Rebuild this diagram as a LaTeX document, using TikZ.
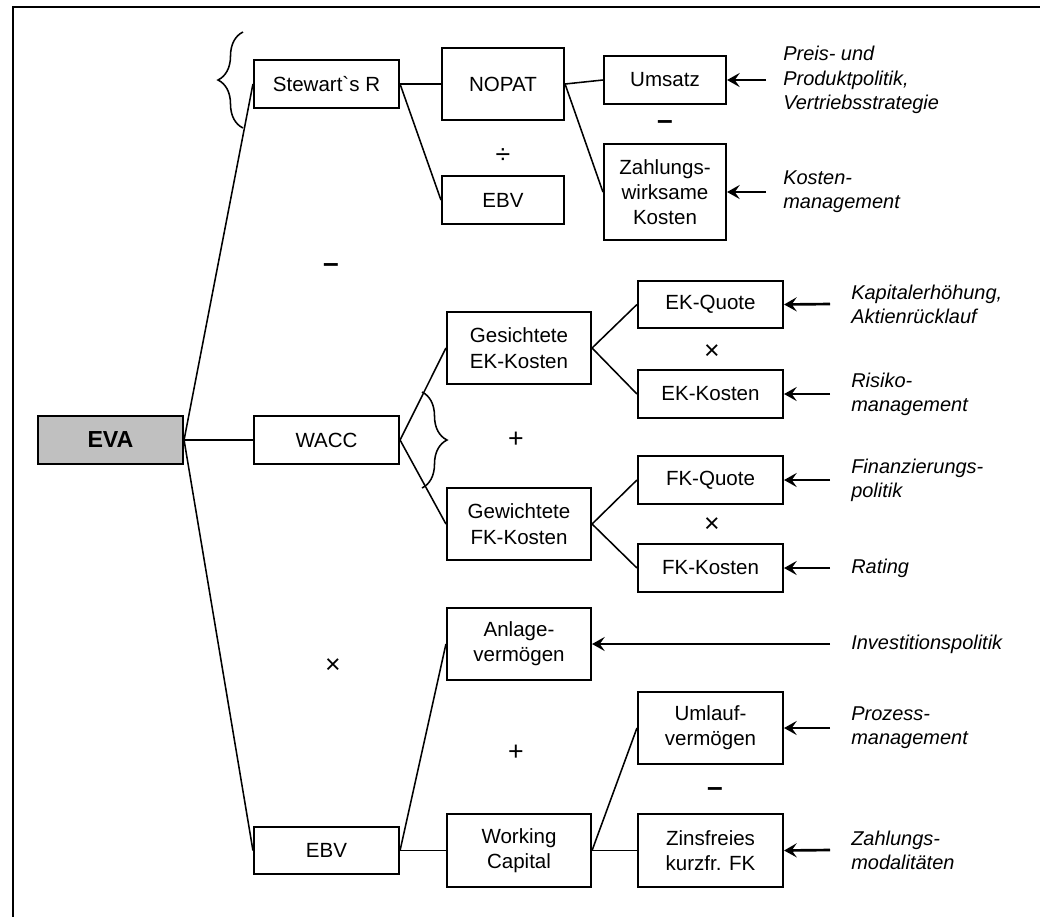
\documentclass[tikz,border=0pt]{standalone}
\usepackage{fontspec}
\setmainfont{Liberation Sans}[Ligatures=TeXOff]
\usetikzlibrary{arrows.meta,decorations.pathreplacing}
\definecolor{evagray}{RGB}{192,192,192}
\begin{document}
\begin{tikzpicture}[x=0.025cm,y=-0.025cm,
  font=\fontsize{14.6}{18}\selectfont,
  box/.style 2 args={draw,line width=1.5pt,align=center,inner sep=0pt,
    minimum width=#1*0.025cm,minimum height=#2*0.025cm},
  conn/.style={line width=1.1pt},
  arr/.style={line width=1.9pt,-{Stealth[length=9pt,width=10pt,inset=3.5pt]}},
  lab/.style={anchor=west,align=left,inner sep=0pt,font=\fontsize{14.2}{17.2}\selectfont\itshape},
  op/.style={inner sep=0pt,font=\fontsize{19}{20}\selectfont},
  minus/.style={inner sep=0pt,font=\fontsize{20}{20}\selectfont\bfseries},
  curly/.style={decorate,line width=1.1pt,decoration={brace,amplitude=25*0.025cm}}]
\useasboundingbox (0,0) rectangle (1040,917);

% frame
\draw[line width=1.5pt] (1040,7) -| (13,917);

% level 0 and 1
\node[box={145}{48},fill=evagray,font=\fontsize{16.5}{19}\selectfont\bfseries] (eva) at (110.5,440) {EVA};
\node[box={145}{48}] (stew) at (326.5,84) {Stewart`s R};
\node[box={145}{48}] (wacc) at (326.5,440) {WACC};
\node[box={145}{47}] (ebvb) at (326.5,850.5) {EBV};

% level 2
\node[box={122}{72}] (nopat) at (503,84) {NOPAT};
\node[box={122}{48}] (ebva) at (503,200) {EBV};
\node[box={144}{72}] (gek) at (519,348) {Gesichtete\\EK-Kosten};
\node[box={144}{72}] (gfk) at (519,524) {Gewichtete\\FK-Kosten};
\node[box={144}{72}] (anl) at (519,644) {Anlage-\\vermögen};
\node[box={144}{73}] (wc) at (519,850.5) {Working\\Capital};

% level 3
\node[box={122}{48}] (ums) at (665,80) {Umsatz};
\node[box={122}{96}] (zwk) at (665,192) {Zahlungs-\\wirksame\\Kosten};
\node[box={145}{47}] (ekq) at (710.5,304.5) {EK-Quote};
\node[box={145}{48}] (ekk) at (710.5,394) {EK-Kosten};
\node[box={145}{48}] (fkq) at (710.5,480) {FK-Quote};
\node[box={145}{48}] (fkk) at (710.5,568) {FK-Kosten};
\node[box={145}{72}] (umv) at (710.5,728) {Umlauf-\\vermögen};
\node[box={145}{73}] (zfk) at (710.5,850.5) {Zinsfreies\\kurzfr. FK};

% tree connectors
\draw[conn] (eva.east) -- (stew.west);
\draw[conn] (eva.east) -- (wacc.west);
\draw[conn] (eva.east) -- (ebvb.west);
\draw[conn] (stew.east) -- (nopat.west);
\draw[conn] (stew.east) -- (ebva.west);
\draw[conn] (nopat.east) -- (ums.west);
\draw[conn] (nopat.east) -- (zwk.west);
\draw[conn] (wacc.east) -- (gek.west);
\draw[conn] (wacc.east) -- (gfk.west);
\draw[conn] (gek.east) -- (ekq.west);
\draw[conn] (gek.east) -- (ekk.west);
\draw[conn] (gfk.east) -- (fkq.west);
\draw[conn] (gfk.east) -- (fkk.west);
\draw[conn] (ebvb.east) -- (anl.west);
\draw[conn] (ebvb.east) -- (wc.west);
\draw[conn] (wc.east) -- (umv.west);
\draw[conn] (wc.east) -- (zfk.west);

% operators
\node[minus] (o1) at (331,268) {–};
\node[op] (o2) at (503,156) {÷};
\node[minus] (o3) at (665,125) {–};
\node[op] (o4) at (516,440) {+};
\node[op] (o5) at (712,352) {×};
\node[op] (o6) at (712,525) {×};
\node[op] (o7) at (333,666) {×};
\node[op] (o8) at (516,753) {+};
\node[minus] (o9) at (715,792) {–};

% braces
\draw[curly] (243,128) -- (243,32);
\draw[curly] (422,392) -- (422,488);

% value drivers
\node[lab] (d1) at (783,80) {Preis- und\\Produktpolitik,\\Vertriebsstrategie};
\node[lab] (d2) at (783,192) {Kosten-\\management};
\node[lab] (d3) at (851,304) {Kapitalerhöhung,\\Aktienrücklauf};
\node[lab] (d4) at (851,394) {Risiko-\\management};
\node[lab] (d5) at (851,480) {Finanzierungs-\\politik};
\node[lab] (d6) at (851,568) {Rating};
\node[lab] (d7) at (851,644) {Investitionspolitik};
\node[lab] (d8) at (851,728) {Prozess-\\management};
\node[lab] (d9) at (851,850) {Zahlungs-\\modalitäten};

\coordinate (a1) at (766,80);
\coordinate (a2) at (766,192);
\coordinate (a3) at (830,304);
\coordinate (a4) at (830,394);
\coordinate (a5) at (830,480);
\coordinate (a6) at (830,568);
\coordinate (a7) at (830,644);
\coordinate (a8) at (830,728);
\coordinate (a9) at (830,850);
\draw[arr] (a1) -- (ums.east);
\draw[arr] (a2) -- (zwk.east);
\draw[arr] (a3) -- (ekq.east);
\draw[arr] (a4) -- (ekk.east);
\draw[arr] (a5) -- (fkq.east);
\draw[arr] (a6) -- (fkk.east);
\draw[arr] (a7) -- (anl.east);
\draw[arr] (a8) -- (umv.east);
\draw[arr] (a9) -- (zfk.east);
\end{tikzpicture}
\end{document}
